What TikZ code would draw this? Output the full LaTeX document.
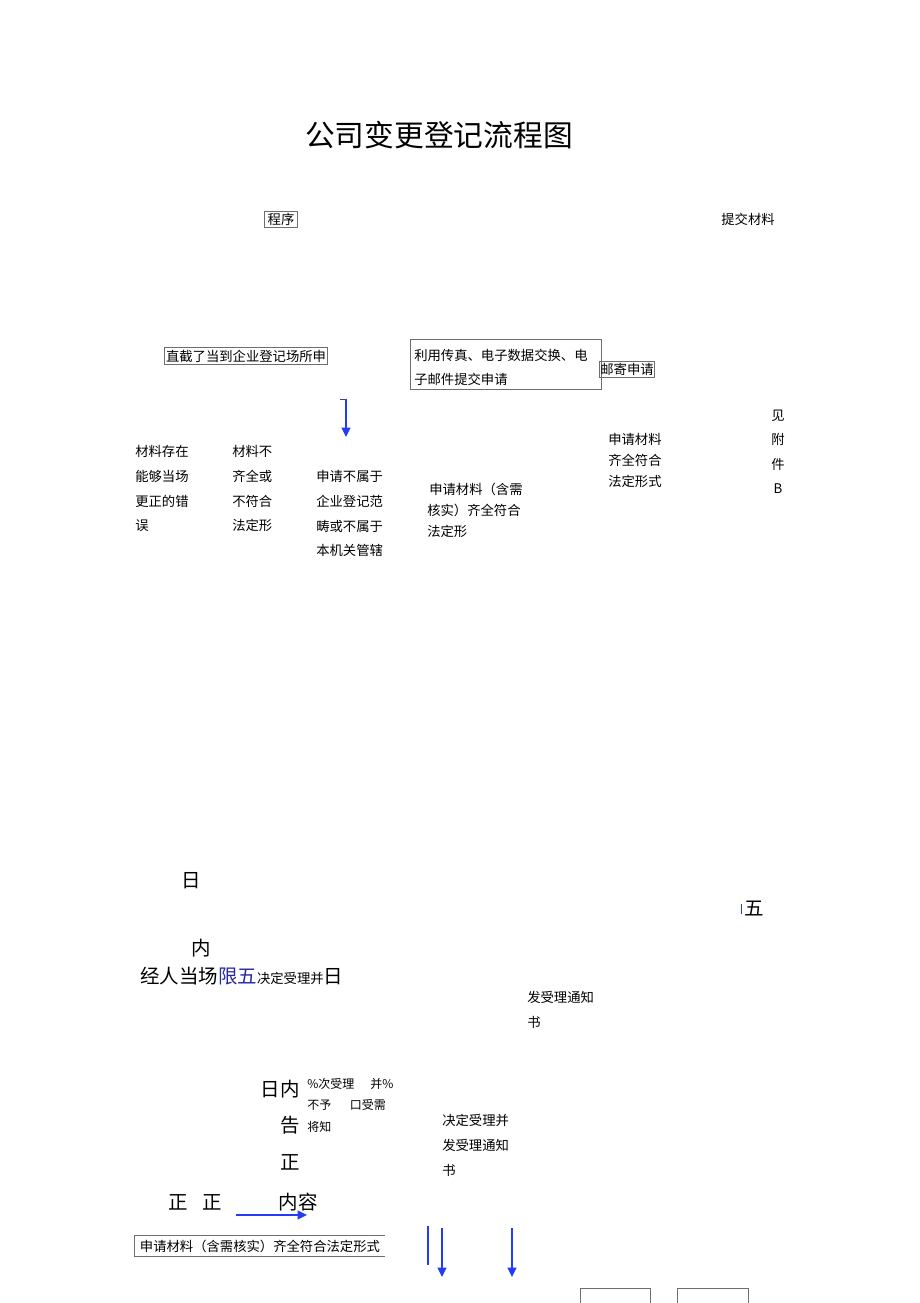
\documentclass[tikz,border=0pt]{standalone}
\usepackage{fontspec}
\setmainfont{Noto Sans CJK SC}
\usetikzlibrary{arrows.meta}
\definecolor{arrowblue}{RGB}{35,60,245}
\definecolor{textblue}{RGB}{40,40,160}
\definecolor{boxgray}{RGB}{110,110,110}
\begin{document}
\begin{tikzpicture}[x=0.75pt,y=-0.75pt,
  t/.style={inner sep=0pt, font=\fontsize{10}{18.4}\selectfont, align=left},
  tc/.style={inner sep=0pt, font=\fontsize{10}{18.4}\selectfont, align=center},
  tn/.style={inner sep=0pt, font=\fontsize{10}{15.75}\selectfont, align=left},
  big/.style={inner sep=0pt, font=\fontsize{14.6}{17}\selectfont},
  gbox/.style={draw=boxgray, line width=0.6pt},
  barrow/.style={draw=arrowblue, line width=1.3pt, -{Triangle[length=7pt,width=6.5pt]}},
  bline/.style={draw=arrowblue, line width=1.3pt}]
\useasboundingbox (0,0) rectangle (920,1303);
\fill[white] (0,0) rectangle (920,1303);

% title
\node[inner sep=0pt, font=\fontsize{22.3}{26}\selectfont] (title) at (439,135) {公司变更登记流程图};

% top row
\node[t, gbox, inner xsep=2.5pt, inner ysep=1.5pt] (prog) at (281,219.5) {程序};
\node[t] (submit) at (748,219.5) {提交材料};

% application boxes
\node[t, gbox, inner xsep=1pt, inner ysep=2pt] (direct) at (246,356) {直截了当到企业登记场所申};
\node[gbox, anchor=north west, minimum width=143.25pt, minimum height=37.5pt, inner sep=0pt] (faxbox) at (410,339) {};
\node[t, anchor=north west, font=\fontsize{10}{18}\selectfont] (faxtext) at (414,349) {利用传真、电子数据交换、电\\子邮件提交申请};
\node[t, gbox, inner xsep=0.5pt, inner ysep=1.5pt] (mail) at (627,369.5) {邮寄申请};

% first blue arrow
\coordinate (a1h) at (340,399);
\coordinate (a1s) at (346,399);
\coordinate (a1e) at (346,437);
\draw[draw=black!70, line width=0.7pt] (a1h) -- (a1s);
\draw[barrow] (a1s) -- (a1e);

% text columns
\node[t, anchor=north west] (c1) at (135,445.5) {材料存在\\能够当场\\更正的错\\误};
\node[t, anchor=north west] (c2) at (232,445.5) {材料不\\齐全或\\不符合\\法定形};
\node[t, anchor=north west] (c3) at (316,470.5) {申请不属于\\企业登记范\\畴或不属于\\本机关管辖};
\node[tn, anchor=north west] (c4) at (427,482.5) {\hspace{1.5pt}申请材料（含需\\核实）齐全符合\\法定形};
\node[tn, anchor=north west] (c5) at (608,433.5) {申请材料\\齐全符合\\法定形式};
\node[tc, anchor=north] (c6) at (778,409.5) {见\\附\\件\\B};

% middle scattered text
\node[big] (ri1) at (191,881) {日};
\node[big] (nei1) at (201,948) {内};
\node[inner sep=0pt, anchor=base west] (line1) at (140,983)
  {\fontsize{14.6}{17}\selectfont 经人当场\textcolor{textblue}{限五}\fontsize{10}{12}\selectfont 决定受理并\fontsize{14.6}{17}\selectfont 日};
\coordinate (tk1) at (741,904);
\coordinate (tk2) at (741,914);
\draw[draw=arrowblue, line width=0.6pt] (tk1) -- (tk2);
\node[big] (wu) at (754,908) {五};
\node[t, anchor=north west, font=\fontsize{10}{18.75}\selectfont] (notice1) at (527,991) {发受理通知\\书};

% lower block
\node[big] (rinei) at (280,1089) {日内};
\node[inner sep=0pt, anchor=north west, align=left, font=\fontsize{9}{16}\selectfont] (small) at (307,1078)
  {\%次受理\hspace{12pt}并\%\\不予\hspace{14pt}口受需\\将知};
\node[big] (gao) at (290,1125) {告};
\node[big] (zheng1) at (290,1162) {正};
\node[big] (zheng2) at (178,1202) {正};
\node[big] (zheng3) at (212,1202) {正};
\node[big] (neirong) at (298,1202) {内容};
\node[t, anchor=north west, font=\fontsize{10}{18.75}\selectfont] (notice2) at (442,1114) {决定受理并\\发受理通知\\书};

% horizontal blue arrow
\coordinate (h1) at (236,1215);
\coordinate (h2) at (307,1215);
\draw[barrow] (h1) -- (h2);

% bottom-left open box
\node[t, inner sep=0pt, minimum width=187.5pt, minimum height=15pt, anchor=west] (bl) at (134,1246) {\hspace{1pt}申请材料（含需核实）齐全符合法定形式\hfill};
\draw[gbox] (bl.north east) -- (bl.north west) -- (bl.south west) -- (bl.south east);

% bottom blue lines/arrows
\coordinate (v1a) at (428,1226);
\coordinate (v1b) at (428,1265);
\draw[bline] (v1a) -- (v1b);
\coordinate (v2a) at (442,1228);
\coordinate (v2b) at (442,1277);
\draw[barrow] (v2a) -- (v2b);
\coordinate (v3a) at (512,1228);
\coordinate (v3b) at (512,1277);
\draw[barrow] (v3a) -- (v3b);

% bottom boxes (cut off)
\coordinate (b1a) at (580,1303);
\coordinate (b1b) at (580,1288);
\coordinate (b1c) at (650,1288);
\coordinate (b1d) at (650,1303);
\draw[gbox] (b1a) -- (b1b) -- (b1c) -- (b1d);
\coordinate (b2a) at (677,1303);
\coordinate (b2b) at (677,1288);
\coordinate (b2c) at (748,1288);
\coordinate (b2d) at (748,1303);
\draw[gbox] (b2a) -- (b2b) -- (b2c) -- (b2d);
\end{tikzpicture}
\end{document}
